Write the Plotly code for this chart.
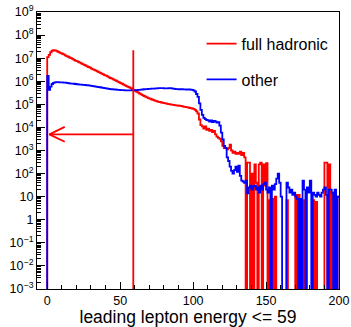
import plotly.graph_objects as go

# ---------------- data ----------------
bin_edges_start = 0
bin_width = 1
n_bins = 200

full_hadronic = [
    1.1e7, 1.4e7, 1.8e7, 2.1e7, 2.2e7, 2.15e7, 2.05e7, 1.9e7, 1.78e7, 1.66e7,
    1.55e7, 1.45e7, 1.32e7, 1.23e7, 1.15e7, 1.07e7, 1.0e7, 9.3e6, 8.5e6, 7.9e6,
    7.4e6, 6.9e6, 6.45e6, 6.0e6, 5.5e6, 5.1e6, 4.8e6, 4.45e6, 4.15e6, 3.9e6,
    3.55e6, 3.3e6, 3.1e6, 2.9e6, 2.7e6, 2.5e6, 2.3e6, 2.15e6, 2.0e6, 1.86e6,
    1.74e6, 1.62e6, 1.48e6, 1.38e6, 1.29e6, 1.2e6, 1.12e6, 1.05e6, 9.6e5, 8.9e5,
    8.3e5, 7.8e5, 7.2e5, 6.6e5, 6.2e5, 5.75e5, 5.4e5, 5.0e5, 4.6e5, 4.2e5,
    3.8e5, 3.5e5, 3.2e5, 2.95e5, 2.7e5, 2.5e5, 2.3e5, 2.15e5, 2.0e5, 1.86e5,
    1.78e5, 1.66e5, 1.58e5, 1.48e5, 1.41e5, 1.35e5, 1.29e5, 1.26e5, 1.2e5, 1.15e5,
    1.12e5, 1.1e5, 1.05e5, 1.02e5, 1.0e5, 9.8e4, 9.5e4, 9.3e4, 9.1e4, 8.9e4,
    8.7e4, 8.5e4, 8.3e4, 7.9e4, 7.8e4, 7.6e4, 7.4e4, 7.1e4, 6.9e4, 6.6e4,
    6.3e4, 5.8e4, 5.0e4, 4.0e4, 2.2e4, 1.26e4, 1.12e4, 8.9e3, 1.12e4, 7.9e3,
    8.9e3, 7.1e3, 7.9e3, 6.3e3, 7.1e3, 5.0e3, 4.0e3, 3.5e3, 3.2e3, 2.5e3,
    1.6e3, 1.26e3, 1.26e3, 1.12e3, 1.26e3, 1.8e3, 1.0e3, 7.9e2, 8.9e2, 7.1e2,
    7.9e2, 7.1e2, 8.9e2, 6.3e2, 7.9e2, 5.0e2, 0, 300, 300, 0,
    100, 0, 250, 40, 0, 250, 300, 0, 250, 30,
    280, 0, 7, 0, 8, 0, 10, 0, 0, 0,
    0, 0, 0, 0, 7, 0, 0, 0, 0, 0,
    12, 0, 12, 0, 0, 0, 7, 0, 0, 0,
    0, 0, 7, 0, 6, 0, 0, 0, 0, 0,
    300, 300, 0, 250, 0, 15, 0, 15, 0, 10,
]

other = [
    1.7e6, 4.2e5, 5.8e5, 7.6e5, 8.5e5, 8.9e5, 9.1e5, 9.1e5, 9.0e5, 9.0e5,
    8.9e5, 8.8e5, 8.7e5, 8.5e5, 8.3e5, 8.1e5, 7.9e5, 7.9e5, 7.8e5, 7.6e5,
    7.4e5, 7.3e5, 7.2e5, 7.1e5, 7.0e5, 6.9e5, 6.8e5, 6.7e5, 6.6e5, 6.5e5,
    6.3e5, 6.2e5, 6.0e5, 5.9e5, 5.75e5, 5.6e5, 5.5e5, 5.3e5, 5.15e5, 5.0e5,
    4.9e5, 4.8e5, 4.7e5, 4.55e5, 4.5e5, 4.45e5, 4.4e5, 4.3e5, 4.25e5, 4.2e5,
    4.15e5, 4.1e5, 4.1e5, 4.05e5, 4.05e5, 4.0e5, 4.0e5, 4.0e5, 4.0e5, 4.1e5,
    4.1e5, 4.15e5, 4.2e5, 4.25e5, 4.3e5, 4.4e5, 4.5e5, 4.6e5, 4.6e5, 4.7e5,
    4.7e5, 4.75e5, 4.8e5, 4.8e5, 4.9e5, 4.9e5, 5.0e5, 5.0e5, 5.0e5, 5.0e5,
    4.9e5, 4.9e5, 4.9e5, 5.0e5, 5.0e5, 4.9e5, 4.8e5, 4.7e5, 4.6e5, 4.6e5,
    4.5e5, 4.5e5, 4.5e5, 4.45e5, 4.45e5, 4.4e5, 4.4e5, 4.4e5, 4.3e5, 4.2e5,
    4.0e5, 3.6e5, 2.8e5, 2.1e5, 1.1e5, 5.8e4, 3.5e4, 2.6e4, 2.3e4, 2.1e4,
    2.0e4, 1.8e4, 2.0e4, 1.7e4, 1.9e4, 1.8e4, 1.6e4, 1.7e4, 1.2e4, 6e3,
    3e3, 1.6e3, 1.3e3, 5e2, 3.5e2, 2e2, 1.3e2, 1.0e2, 1.4e2, 2e2,
    1.2e2, 2.2e2, 80, 50, 45, 40, 50, 14, 25, 30,
    20, 28, 30, 20, 25, 15, 30, 20, 35, 40,
    20, 15, 25, 0, 30, 20, 35, 60, 100, 40,
    10, 0, 0, 0, 40, 25, 15, 20, 12, 15,
    10, 8, 0, 8, 0, 50, 20, 0, 25, 15,
    50, 0, 15, 12, 10, 15, 12, 10, 15, 20,
    25, 12, 0, 20, 20, 15, 0, 20, 0, 10,
]

series_names = ["full hadronic", "other"]
cut_value = 59
arrow_level = 5e3
arrow_end = 1.5

x_range = [-7, 200]
y_exp_min, y_exp_max = -3, 9
x_tick_vals = [0, 50, 100, 150, 200]
y_tick_vals = [10.0 ** e for e in range(y_exp_min, y_exp_max + 1)]
y_tick_text = ["10<sup>−3</sup>", "10<sup>−2</sup>", "10<sup>−1</sup>", "1", "10",
               "10<sup>2</sup>", "10<sup>3</sup>", "10<sup>4</sup>", "10<sup>5</sup>",
               "10<sup>6</sup>", "10<sup>7</sup>", "10<sup>8</sup>", "10<sup>9</sup>"]

# --------------- figure ---------------
FONT = "Liberation Sans, Arial, Helvetica, sans-serif"
floor = 10.0 ** (y_exp_min - 1)   # empty bins drawn below the axis (clipped)


def step_xy(values):
    xs = [bin_edges_start]
    ys = [floor]
    for i, v in enumerate(values):
        xs.append(bin_edges_start + i * bin_width)
        ys.append(v if v > 0 else floor)
    xs.append(bin_edges_start + len(values) * bin_width)
    ys.append(values[-1] if values[-1] > 0 else floor)
    return xs, ys


fig = go.Figure()
for vals, name, col in [(full_hadronic, series_names[0], "#ff0000"),
                        (other, series_names[1], "#0000ff")]:
    xs, ys = step_xy(vals)
    fig.add_trace(go.Scatter(x=xs, y=ys, mode="lines", name=name,
                             line=dict(color=col, width=1.8, shape="hv"),
                             legendgroup=name, hoverinfo="skip"))

# cut line
fig.add_trace(go.Scatter(x=[cut_value, cut_value], y=[floor, max(full_hadronic)],
                         mode="lines", line=dict(color="#ff0000", width=1.8),
                         showlegend=False, hoverinfo="skip"))
# arrow pointing to accepted side
head_dx = 10.5
head_fac = 2.1
fig.add_trace(go.Scatter(
    x=[cut_value, arrow_end, None, arrow_end + head_dx, arrow_end, arrow_end + head_dx],
    y=[arrow_level, arrow_level, None, arrow_level * head_fac, arrow_level, arrow_level / head_fac],
    mode="lines", line=dict(color="#ff0000", width=1.8),
    showlegend=False, hoverinfo="skip"))

minor_y = [k * 10.0 ** e for e in range(y_exp_min, y_exp_max) for k in range(2, 10)]

fig.update_layout(
    width=351, height=327,
    margin=dict(l=37, r=12, t=12, b=38, autoexpand=False),
    paper_bgcolor="white", plot_bgcolor="white",
    font=dict(family=FONT, color="black", size=12),
    showlegend=True,
    legend=dict(x=0.545, y=0.947, xanchor="left", yanchor="top",
                bgcolor="rgba(0,0,0,0)", borderwidth=0,
                font=dict(family=FONT, size=16, color="black"),
                traceorder="grouped", tracegroupgap=12),
)
fig.update_xaxes(
    range=x_range, showgrid=False, zeroline=False, automargin=False,
    showline=True, linecolor="black", linewidth=1, mirror=True,
    ticks="inside", ticklen=7, tickcolor="black",
    tickvals=x_tick_vals, tickfont=dict(size=12.5),
    minor=dict(ticks="inside", ticklen=4, dtick=10, tick0=0, tickcolor="black", showgrid=False),
    title=dict(text="leading lepton energy &lt;= 59", font=dict(size=17.5), standoff=6),
)
fig.update_yaxes(
    type="log", range=[y_exp_min, y_exp_max], showgrid=False, zeroline=False, automargin=False,
    showline=True, linecolor="black", linewidth=1, mirror=True,
    ticks="inside", ticklen=8, tickcolor="black",
    tickvals=y_tick_vals, ticktext=y_tick_text, tickfont=dict(size=12.5),
    minor=dict(ticks="inside", ticklen=4, tickvals=minor_y, tickcolor="black", showgrid=False),
)

fig.write_html(
    "out.html",
    config={"displayModeBar": False, "staticPlot": True},
    post_script="document.body.style.margin='0';document.body.style.overflow='hidden';",
)
